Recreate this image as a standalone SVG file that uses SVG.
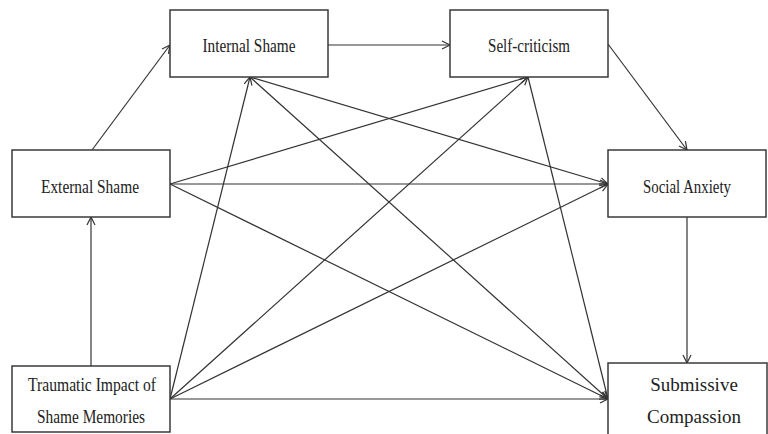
<svg xmlns="http://www.w3.org/2000/svg" width="768" height="434" viewBox="0 0 768 434">
<defs>
<marker id="arr" markerUnits="userSpaceOnUse" markerWidth="12" markerHeight="12" refX="9" refY="5" orient="auto">
<path d="M1,1 L9,5 L1,9" fill="none" stroke="#333" stroke-width="1.2"/>
</marker>
<style>
.box{fill:#fff;stroke:#3a3a3a;stroke-width:1.5}
.t{font-family:"Liberation Serif","Times New Roman",serif;font-size:18px;fill:#222;text-anchor:middle}
.t2{font-family:"Liberation Serif","Times New Roman",serif;font-size:19px;fill:#222;text-anchor:middle}
.c{stroke:#333;stroke-width:1.2;fill:none;marker-end:url(#arr)}
</style>
</defs>
<rect width="768" height="434" fill="#fff"/>
<g id="connectors">
<line class="c" x1="92" y1="150" x2="170" y2="45"/>
<line class="c" x1="328" y1="45" x2="450" y2="45"/>
<line class="c" x1="608" y1="44" x2="687" y2="150"/>
<line class="c" x1="687" y1="217" x2="687" y2="363"/>
<line class="c" x1="91" y1="366" x2="91" y2="217"/>
<line class="c" x1="170" y1="399" x2="608" y2="399"/>
<line class="c" x1="170" y1="399" x2="250" y2="77"/>
<line class="c" x1="170" y1="399" x2="528" y2="77"/>
<line class="c" x1="170" y1="399" x2="608" y2="184"/>
<line class="c" x1="170" y1="184" x2="528" y2="77"/>
<line class="c" x1="170" y1="184" x2="608" y2="184"/>
<line class="c" x1="170" y1="184" x2="608" y2="399"/>
<line class="c" x1="250" y1="77" x2="608" y2="184"/>
<line class="c" x1="250" y1="77" x2="608" y2="399"/>
<line class="c" x1="528" y1="77" x2="608" y2="399"/>
</g>
<g id="internal-shame">
<rect class="box" x="170" y="10" width="158" height="67"/>
<text class="t" x="249" y="52" textLength="93" lengthAdjust="spacingAndGlyphs">Internal  Shame</text>
</g>
<g id="self-criticism">
<rect class="box" x="450" y="10" width="158" height="67"/>
<text class="t" x="529" y="52" textLength="82" lengthAdjust="spacingAndGlyphs">Self-criticism</text>
</g>
<g id="external-shame">
<rect class="box" x="12" y="150" width="158" height="67"/>
<text class="t" x="90" y="193" textLength="98" lengthAdjust="spacingAndGlyphs">External  Shame</text>
</g>
<g id="social-anxiety">
<rect class="box" x="608" y="150" width="158" height="67"/>
<text class="t" x="687" y="193" textLength="88" lengthAdjust="spacingAndGlyphs">Social Anxiety</text>
</g>
<g id="traumatic-impact">
<rect class="box" x="12" y="366" width="158" height="66"/>
<text class="t" x="92" y="391" textLength="128" lengthAdjust="spacingAndGlyphs">Traumatic  Impact of</text>
<text class="t" x="91" y="423" textLength="108" lengthAdjust="spacingAndGlyphs">Shame Memories</text>
</g>
<g id="submissive-compassion">
<rect class="box" x="608" y="363" width="159" height="80"/>
<text class="t2" x="694" y="391">Submissive</text>
<text class="t2" x="694" y="423">Compassion</text>
</g>
</svg>
